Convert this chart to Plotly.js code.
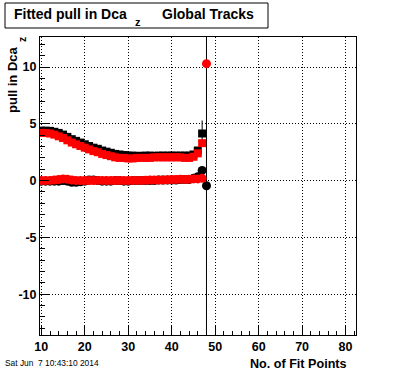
<!DOCTYPE html>
<html>
<head>
<meta charset="utf-8">
<script src="https://cdn.plot.ly/plotly-3.0.1.min.js"></script>
<style>html,body{margin:0;padding:0;background:#fff;}#chart{width:396px;height:372px;}</style>
</head>
<body>
<div id="chart"></div>
<script>
// Fit points (x) for square series (10..47) and circle series (10..48)
const xSquares = [10,11,12,13,14,15,16,17,18,19,20,21,22,23,24,25,26,27,28,29,30,31,32,33,34,35,36,37,38,39,40,41,42,43,44,45,46,47];
const xCircles = [10,11,12,13,14,15,16,17,18,19,20,21,22,23,24,25,26,27,28,29,30,31,32,33,34,35,36,37,38,39,40,41,42,43,44,45,46,47,48];

const blackSquares = [4.4,4.4,4.38,4.3,4.2,4.05,3.85,3.65,3.5,3.35,3.2,3.05,2.9,2.8,2.65,2.55,2.45,2.35,2.3,2.25,2.2,2.2,2.18,2.18,2.2,2.2,2.18,2.2,2.2,2.2,2.2,2.2,2.2,2.2,2.2,2.3,2.65,4.15];
const blackSquaresErr = [0,0,0,0,0,0,0,0,0,0,0,0,0,0,0,0,0,0,0,0,0,0,0,0,0,0,0,0,0,0,0,0,0,0,0,0,0,1.15];
const redSquares = [4.2,4.2,4.15,4.05,3.9,3.75,3.55,3.35,3.2,3.05,2.9,2.75,2.6,2.5,2.35,2.25,2.15,2.05,2.0,2.0,1.95,1.95,2.0,2.0,2.0,2.0,2.05,2.05,2.05,2.05,2.05,2.05,2.05,2.0,2.0,2.1,2.4,3.3];

const blackCircles = [-0.05,-0.05,-0.05,-0.05,-0.05,0.0,-0.05,-0.15,-0.15,-0.1,-0.05,0.05,0.05,0.0,-0.05,-0.05,-0.05,0.0,0.0,-0.05,-0.05,0.0,0.0,0.0,0.0,0.0,0.0,0.05,0.05,0.05,0.05,0.05,0.1,0.1,0.1,0.2,0.35,0.9,-0.45];
const blackCirclesErr = [0,0,0,0,0,0,0,0,0,0,0,0,0,0,0,0,0,0,0,0,0,0,0,0,0,0,0,0,0,0,0,0,0,0,0,0,0,0,30];
const redCircles = [0.0,0.0,0.02,0.05,0.1,0.15,0.12,0.05,0.02,0.0,0.0,0.0,0.0,0.02,0.02,0.0,0.0,0.0,0.02,0.0,0.0,0.02,0.02,0.02,0.03,0.05,0.05,0.05,0.05,0.08,0.1,0.1,0.12,0.1,0.12,0.15,0.15,0.2,10.3];

const xTickVals = [10,20,30,40,50,60,70,80];
const yTickVals = [-10,-5,0,5,10];

const FONT = "Liberation Sans, Arial, Helvetica, sans-serif";

const traces = [
  {x: xSquares, y: blackSquares, type: 'scatter', mode: 'markers',
   marker: {symbol: 'square', size: 8, color: '#000000', line: {width: 0}},
   error_y: {type: 'data', array: blackSquaresErr, visible: true, color: '#000000', thickness: 1, width: 0}},
  {x: xCircles, y: blackCircles, type: 'scatter', mode: 'markers',
   marker: {symbol: 'circle', size: 9, color: '#000000', line: {width: 0}},
   error_y: {type: 'data', array: blackCirclesErr, visible: true, color: '#000000', thickness: 1, width: 0}},
  {x: xSquares, y: redSquares, type: 'scatter', mode: 'markers',
   marker: {symbol: 'square', size: 8, color: '#ff0000', line: {width: 0}}},
  {x: xCircles, y: redCircles, type: 'scatter', mode: 'markers',
   marker: {symbol: 'circle', size: 9, color: '#ff0000', line: {width: 0}}}
];

// pixel -> paper helpers (plot area: x 40..356, y 37..335)
const L = 40, R = 40, T = 37, B = 37;
const W = 396 - L - R, H = 372 - T - B;
const px = v => (v - L) / W;
const py = v => (372 - B - v) / H;

const layout = {
  width: 396, height: 372,
  margin: {l: L, r: R, t: T, b: B, pad: 0},
  paper_bgcolor: '#ffffff', plot_bgcolor: '#ffffff',
  showlegend: false,
  font: {family: FONT, color: '#000000'},
  xaxis: {
    range: [9.7, 82.4], tickvals: xTickVals, ticktext: xTickVals.map(String),
    ticks: 'inside', ticklen: 9, tickwidth: 1, tickcolor: '#000',
    minor: {dtick: 2, tick0: 10, ticks: 'inside', ticklen: 4, tickcolor: '#000', showgrid: false},
    showline: true, linecolor: '#000', linewidth: 1, mirror: true,
    showgrid: true, gridcolor: '#000', gridwidth: 1, griddash: '1px,2px',
    zeroline: false,
    tickfont: {family: FONT, size: 12.5, weight: 'bold', color: '#000'}
  },
  yaxis: {
    range: [-13.6, 12.65], tickvals: yTickVals, ticktext: yTickVals.map(String),
    ticks: 'inside', ticklen: 9, tickwidth: 1, tickcolor: '#000',
    minor: {dtick: 1, tick0: 0, ticks: 'inside', ticklen: 4.5, tickcolor: '#000', showgrid: false},
    showline: true, linecolor: '#000', linewidth: 1, mirror: true,
    showgrid: true, gridcolor: '#000', gridwidth: 1, griddash: '1px,2px',
    zeroline: false,
    tickfont: {family: FONT, size: 12.5, weight: 'bold', color: '#000'}
  },
  shapes: [
    {type: 'rect', xref: 'paper', yref: 'paper', x0: px(5), x1: px(268), y0: py(28), y1: py(3),
     line: {color: '#000', width: 1}, fillcolor: '#ffffff', layer: 'above'}
  ],
  annotations: [
    {text: 'Fitted pull in Dca', xref: 'paper', yref: 'paper', x: px(12), y: py(14), xanchor: 'left', yanchor: 'middle',
     showarrow: false, font: {family: FONT, size: 14, weight: 'bold', color: '#000'}},
    {text: 'z', xref: 'paper', yref: 'paper', x: px(137.5), y: py(22), xanchor: 'center', yanchor: 'middle',
     showarrow: false, font: {family: FONT, size: 11, weight: 'bold', color: '#000'}},
    {text: 'Global Tracks', xref: 'paper', yref: 'paper', x: px(160), y: py(14), xanchor: 'left', yanchor: 'middle',
     showarrow: false, font: {family: FONT, size: 14, weight: 'bold', color: '#000'}},
    {text: 'pull in Dca', xref: 'paper', yref: 'paper', x: px(13), y: py(80), xanchor: 'center', yanchor: 'middle',
     textangle: -90, showarrow: false, font: {family: FONT, size: 13, weight: 'bold', color: '#000'}},
    {text: 'z', xref: 'paper', yref: 'paper', x: px(22), y: py(40), xanchor: 'center', yanchor: 'middle',
     textangle: -90, showarrow: false, font: {family: FONT, size: 10, weight: 'bold', color: '#000'}},
    {text: 'No. of Fit Points', xref: 'paper', yref: 'paper', x: px(349), y: py(364), xanchor: 'right', yanchor: 'middle',
     showarrow: false, font: {family: FONT, size: 12.6, weight: 'bold', color: '#000'}},
    {text: 'Sat Jun\u00a0 7 10:43:10 2014', xref: 'paper', yref: 'paper', x: px(3), y: py(362.5), xanchor: 'left', yanchor: 'middle',
     showarrow: false, font: {family: FONT, size: 8.4, color: '#000'}}
  ]
};

Plotly.newPlot('chart', traces, layout, {displayModeBar: false, staticPlot: true});
</script>
</body>
</html>
